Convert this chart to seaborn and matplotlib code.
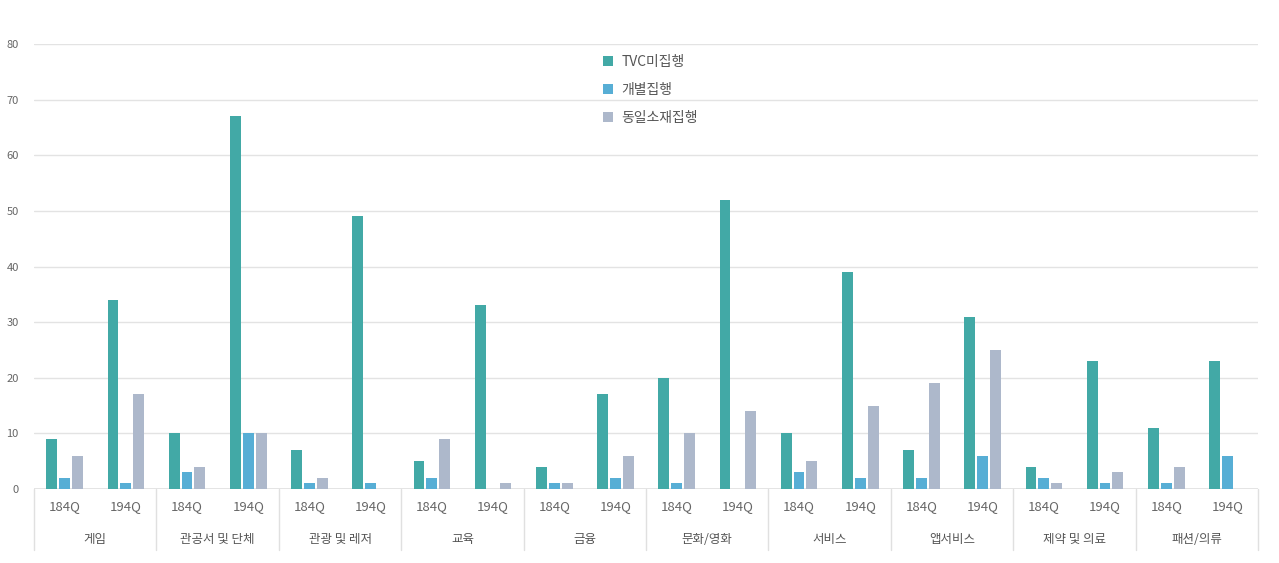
import pandas as pd
import matplotlib.pyplot as plt
import seaborn as sns

sns.set_theme(style="white")
plt.rcParams['font.family'] = ['Noto Sans CJK KR', 'DejaVu Sans']

# ============================
# DATA
# ============================
categories = ['게임', '관공서 및 단체', '관광 및 레저', '교육', '금융',
              '문화/영화', '서비스', '앱서비스', '제약 및 의료', '패션/의류']
quarters = ['184Q', '194Q']
series = ['TVC미집행', '개별집행', '동일소재집행']

# values per category: [184Q, 194Q]
tvc = [[9, 34], [10, 67], [7, 49], [5, 33], [4, 17],
       [20, 52], [10, 39], [7, 31], [4, 23], [11, 23]]
gaebyeol = [[2, 1], [3, 10], [1, 1], [2, 0], [1, 2],
            [1, 0], [3, 2], [2, 6], [2, 1], [1, 6]]
dongil = [[6, 17], [4, 10], [2, 0], [9, 1], [1, 6],
          [10, 14], [5, 15], [19, 25], [1, 3], [4, 0]]

colors = ['#42A9A6', '#57AED5', '#ADB8CB']

rows = []
for ci, cat in enumerate(categories):
    for qi, q in enumerate(quarters):
        slot = f"{cat}|{q}"
        for name, vals in zip(series, [tvc, gaebyeol, dongil]):
            rows.append({'slot': slot, 'series': name, 'value': vals[ci][qi]})
df = pd.DataFrame(rows)
slot_order = [f"{c}|{q}" for c in categories for q in quarters]

# ============================
# PLOT
# ============================
fig = plt.figure(figsize=(12.79, 5.63), dpi=100)
ax = fig.add_axes([0.0266, 0.1314, 0.9570, 0.7904])

sns.barplot(data=df, x='slot', y='value', hue='series', order=slot_order,
            hue_order=series, palette=colors, saturation=1, width=0.63, gap=0.15,
            linewidth=0, ax=ax)

ax.set_xlim(-0.5, len(slot_order) - 0.5)
ax.set_ylim(0, 80)
ax.set_yticks(range(0, 81, 10))
ax.yaxis.grid(True, color='#e3e3e3', linewidth=1)
ax.set_axisbelow(True)
for s in ax.spines.values():
    s.set_visible(False)
ax.axhline(0, color='#e0e0e0', linewidth=1.2, zorder=0)

ax.set_xlabel('')
ax.set_ylabel('')
ax.set_xticks(range(len(slot_order)))
ax.set_xticklabels([q for c in categories for q in quarters])
ax.tick_params(axis='x', length=0, pad=8, labelsize=9.5, labelcolor='#666666')
ax.tick_params(axis='y', length=0, pad=11, labelsize=8, labelcolor='#666666')

# category labels and separators under the axis
trans = ax.get_xaxis_transform()
for ci, cat in enumerate(categories):
    ax.text(ci * 2 + 0.5, -0.113, cat, transform=trans, ha='center', va='center',
            fontsize=9, color='#555555')
for b in range(len(categories) + 1):
    ax.plot([b * 2 - 0.5, b * 2 - 0.5], [0, -0.137], transform=trans,
            color='#e0e0e0', linewidth=1, clip_on=False)

leg = ax.legend(loc='upper left', bbox_to_anchor=(0.455, 1.003), frameon=False,
                fontsize=10, labelspacing=1.0, handlelength=0.7, handleheight=0.7,
                handletextpad=0.6, labelcolor='#555555')

fig.savefig('out.png', dpi=100)
